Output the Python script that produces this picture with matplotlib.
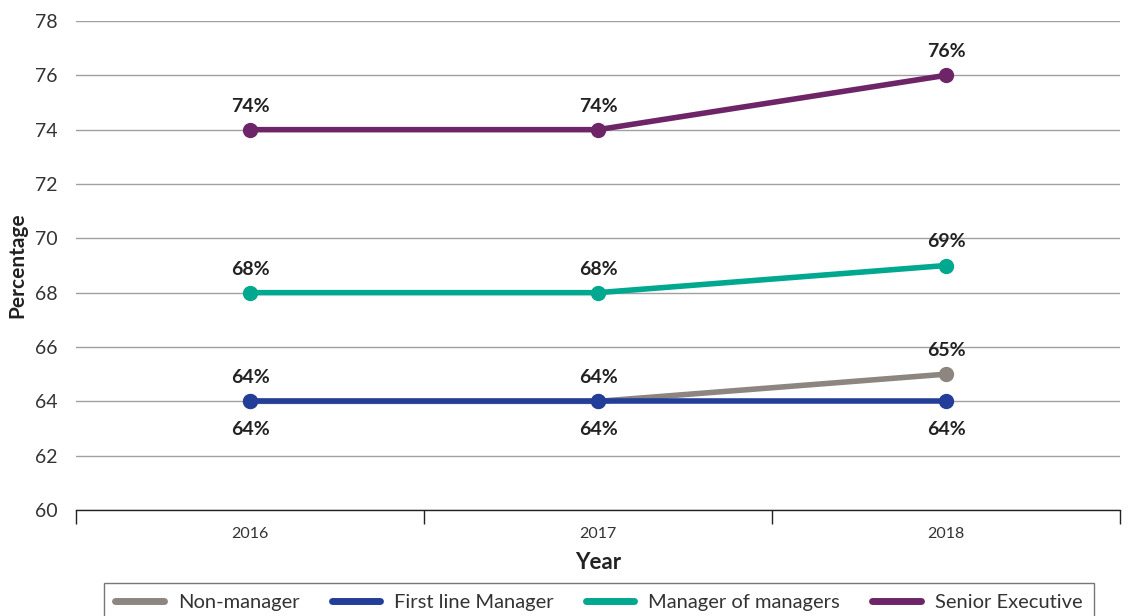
import matplotlib
matplotlib.use("Agg")
import matplotlib.pyplot as plt
from matplotlib.ticker import FixedLocator

years = ["2016", "2017", "2018"]
series_names = ["Non-manager", "First line Manager", "Manager of managers", "Senior Executive"]
non_manager = [64, 64, 65]
first_line = [64, 64, 64]
manager_of_managers = [68, 68, 69]
senior_exec = [74, 74, 76]
yticks = [60, 62, 64, 66, 68, 70, 72, 74, 76, 78]

colors = ["#8c8580", "#233e99", "#00a88f", "#6e2568"]
data = [non_manager, first_line, manager_of_managers, senior_exec]
# label placement: above or below
placement = ["above", "below", "above", "above"]

plt.rcParams['font.family'] = ['Lato', 'DejaVu Sans']

fig = plt.figure(figsize=(11.3, 6.16), dpi=100)
ax = fig.add_axes([76/1130, 1-510/616, (1120-76)/1130, (510-21)/616])

x = [i + 0.5 for i in range(len(years))]
handles = []
for vals, c, name, pl in zip(data, colors, series_names, placement):
    h, = ax.plot(x, vals, color=c, lw=4, marker='o', markersize=10,
                 solid_capstyle='round', label=name, zorder=3)
    handles.append(h)
    for xi, v in zip(x, vals):
        dy = 17 if pl == "above" else -20
        ax.annotate(f"{v}%", (xi, v), xytext=(0, dy), textcoords='offset points',
                    ha='center', va='center', fontsize=14, fontweight='bold', color='#222222')

ax.set_xlim(0, len(years))
ax.set_ylim(60, 78)
ax.set_yticks(yticks)
ax.set_yticklabels([str(t) for t in yticks], fontsize=14, color='#333333')
ax.set_xticks(x)
ax.set_xticklabels(years, fontsize=11.5, color='#333333')
ax.xaxis.set_minor_locator(FixedLocator(list(range(len(years) + 1))))
ax.tick_params(axis='x', which='major', length=0, pad=12)
ax.tick_params(axis='x', which='minor', length=10, width=1, color='#222222', direction='out')
ax.tick_params(axis='y', length=0, pad=13)
ax.grid(axis='y', color='#a0a0a0', lw=1)
ax.set_axisbelow(True)
for s in ['top', 'right', 'left']:
    ax.spines[s].set_visible(False)
ax.spines['bottom'].set_color('#222222')
ax.spines['bottom'].set_linewidth(1)

ax.set_xlabel("Year", fontsize=16, fontweight='bold', color='#222222', labelpad=8)
ax.set_ylabel("Percentage", fontsize=15, fontweight='bold', color='#222222', labelpad=6)

leg = fig.legend(handles=handles, loc='upper center', bbox_to_anchor=(599/1130, 1-583/616),
                 ncol=4, fontsize=14.5, frameon=True, fancybox=False, handlelength=2.4,
                 handletextpad=0.7, columnspacing=1.6, borderpad=0.55, borderaxespad=0)
leg.get_frame().set_edgecolor('#555555')
leg.get_frame().set_linewidth(1)
for t in leg.get_texts():
    t.set_color('#333333')
for lh in leg.get_lines():
    lh.set_marker('')
    lh.set_linewidth(5)

fig.savefig("out.png", dpi=100)
